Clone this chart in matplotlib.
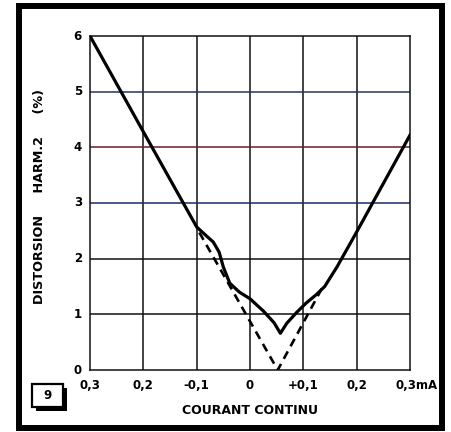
"""Second-harmonic distortion vs DC bias current (fig. 9)."""
import matplotlib
matplotlib.use("Agg")
import matplotlib.pyplot as plt
from matplotlib.patches import Rectangle

# measured curve (solid) and ideal V (dashed)
cur_meas = [-0.3, -0.2, -0.1, -0.083, -0.069, -0.058, -0.05, -0.038, -0.02, 0.0,
            0.025, 0.045, 0.057, 0.069, 0.088, 0.105, 0.125, 0.14, 0.163, 0.2, 0.3]
dist_meas = [6.0, 4.28, 2.57, 2.42, 2.30, 2.12, 1.85, 1.56, 1.40, 1.28,
             1.06, 0.85, 0.66, 0.84, 1.04, 1.20, 1.36, 1.50, 1.85, 2.48, 4.22]
cur_ideal = [-0.095, 0.052, 0.135]
dist_ideal = [2.47, 0.0, 1.47]

xticks = [-0.3, -0.2, -0.1, 0.0, 0.1, 0.2, 0.3]
xlabels = ["0,3", "0,2", "-0,1", "0", "+0,1", "0,2", "0,3mA"]
yticks = [0, 1, 2, 3, 4, 5, 6]
# the print has slightly tinted ruling on a few horizontals
hline_colors = {3: "#1c2a66", 4: "#6a1c2c", 5: "#24345e"}

W, H = 451, 432
fig = plt.figure(figsize=(W / 100, H / 100), dpi=100)
fig.patch.set_facecolor("white")
font = dict(family="DejaVu Sans", fontweight="bold")

ax = fig.add_axes([90 / W, 62 / H, 320 / W, 334 / H])
ax.set_xlim(-0.3, 0.3)
ax.set_ylim(0, 6)
ax.set_xticks([])
ax.set_yticks([])
for s in ax.spines.values():
    s.set_linewidth(1.1)
    s.set_color("#111111")

for x in xticks[1:-1]:
    ax.axvline(x, color="#111111", lw=1.1, zorder=1)
for y in yticks[1:-1]:
    ax.axhline(y, color=hline_colors.get(y, "#111111"), lw=1.1, zorder=1)

ax.plot(cur_meas, dist_meas, color="black", lw=2.3, solid_joinstyle="round", zorder=3)
ax.plot(cur_ideal, dist_ideal, color="black", lw=1.9, ls=(0, (3.2, 2.2)), zorder=2)

for x, lab in zip(xticks, xlabels):
    off = 0.013 if lab.endswith("mA") else 0.0
    ax.text(x + off, -0.27, lab, ha="center", va="center", fontsize=8.5, **font)
for y in yticks:
    ax.text(-0.315, y, str(y), ha="right", va="center", fontsize=8.5, **font)

fig.text(250 / W, 1 - 410 / H, "COURANT CONTINU", ha="center", va="center",
         fontsize=9, **font)
fig.text(40 / W, 1 - 197 / H, "DISTORSION     HARM.2     (%)", ha="center", va="center",
         rotation=90, fontsize=9.2, **font)

# outer frame
fig.patches.append(Rectangle((19 / W, 4 / H), 423 / W, 422 / H, transform=fig.transFigure,
                             fill=False, lw=4.3, ec="black"))
# figure number box with drop shadow
fig.patches.append(Rectangle((36 / W, 1 - 411 / H), 31 / W, 23 / H, transform=fig.transFigure,
                             fc="black", ec="black", lw=0))
fig.patches.append(Rectangle((32 / W, 1 - 407 / H), 31 / W, 23 / H, transform=fig.transFigure,
                             fc="white", ec="black", lw=1.6))
fig.text(47.5 / W, 1 - 395.5 / H, "9", ha="center", va="center", fontsize=8.5, **font)

fig.savefig("out.png", dpi=100)
